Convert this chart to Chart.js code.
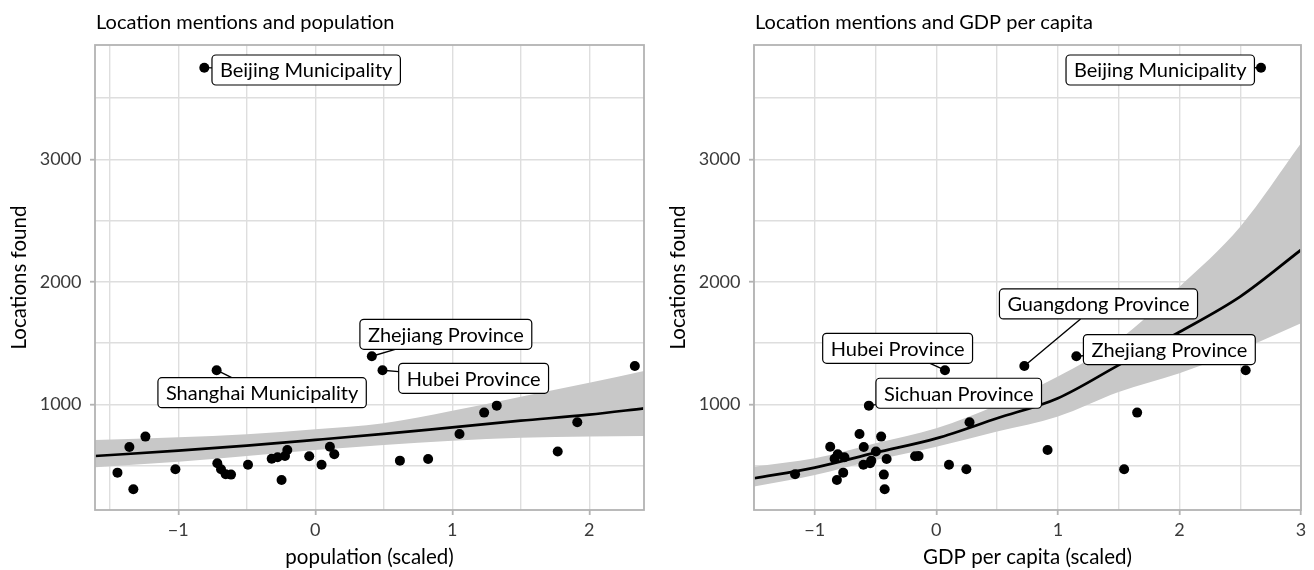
<!DOCTYPE html>
<html>
<head>
<meta charset="utf-8">
<script src="https://cdn.jsdelivr.net/npm/chart.js@4.4.1/dist/chart.umd.min.js"></script>
<style>
  html, body { margin: 0; padding: 0; background: #fff; }
  #wrap { display: flex; width: 1314px; height: 570px; }
  .panel { width: 657px; height: 570px; }
</style>
</head>
<body>
<div id="wrap">
  <div class="panel"><canvas id="popChart" width="657" height="570"></canvas></div>
  <div class="panel"><canvas id="gdpChart" width="657" height="570"></canvas></div>
</div>
<script>
// DATA (one row per province, same order in every array)
const provinceNames = ['Beijing Municipality', 'Zhejiang Province', 'Guangdong Province',
                       'Shanghai Municipality', 'Hubei Province', 'Sichuan Province'];
const locationsFound = [3748, 1392, 1313, 1278, 1278, 989, 932, 853, 758, 736, 654, 652, 627, 614, 592, 578,
                        576, 567, 556, 554, 540, 518, 507, 507, 469, 469, 442, 429, 426, 382, 306];
const popScaled = [-0.81, 0.413, 2.333, -0.72, 0.491, 1.325, 1.233, 1.913, 1.053, -1.24, 0.107, -1.357, -0.204,
                   1.77, 0.139, -0.221, -0.044, -0.275, -0.318, 0.824, 0.618, -0.715, 0.046, -0.491, -0.688,
                   -1.021, -1.444, -0.654, -0.615, -0.246, -1.328];
const gdpScaled = [2.671, 1.152, 0.724, 2.545, 0.071, -0.555, 1.652, 0.273, -0.632, -0.454, -0.873, -0.597, 0.915,
                   -0.497, -0.811, -0.146, -0.175, -0.756, -0.837, -0.409, -0.535, -0.545, 0.104, -0.6, 0.247,
                   1.545, -0.766, -1.162, -0.432, -0.818, -0.425];

// fitted curves and confidence bands
const popFitX  = [-1.608, -1, -0.5, 0, 0.5, 1, 1.5, 2, 2.4];
const popFit   = [578, 621, 662, 709, 758, 812, 866, 915, 967];
const popLower = [486, 531, 578, 627, 668, 702, 727, 736, 741];
const popUpper = [709, 731, 755, 796, 845, 947, 1062, 1176, 1272];

const gdpFitX  = [-1.5, -1, -0.5, 0, 0.5, 1, 1.5, 2, 2.5, 3];
const gdpFit   = [396, 483, 605, 722, 886, 1050, 1320, 1590, 1879, 2260];
const gdpLower = [328, 423, 545, 654, 777, 900, 1100, 1253, 1443, 1661];
const gdpUpper = [491, 559, 682, 804, 995, 1226, 1525, 1960, 2450, 3131];

// tick labels
const yTickLabels = [1000, 2000, 3000];
const popTickLabels = [-1, 0, 1, 2];
const gdpTickLabels = [-1, 0, 1, 2, 3];

// STYLE
const FONT = 'Lato';
const gridColor = '#dedede';
const frameColor = '#b3b3b3';
const textColor = '#3a3a3a';

function tickText(v) {
    return v < 0 ? '\u2212' + Math.abs(v) : String(v);
}

// grid every half step of the labelled ticks
function halfSteps(step) {
    return scale => {
        const out = [];
        for (let v = Math.ceil(scale.min / step) * step; v <= scale.max + 1e-9; v += step) {
            out.push({ value: Math.round(v * 1000) / 1000 });
        }
        scale.ticks = out;
    };
}

// panel title + border
const framePlugin = {
    id: 'frame',
    afterDraw(chart) {
        const { ctx, chartArea: a } = chart;
        ctx.save();
        ctx.strokeStyle = frameColor;
        ctx.lineWidth = 1.8;
        ctx.strokeRect(a.left, a.top, a.right - a.left, a.bottom - a.top);
        ctx.fillStyle = '#000';
        ctx.font = '20px ' + FONT;
        ctx.textBaseline = 'alphabetic';
        ctx.textAlign = 'left';
        ctx.fillText(chart.$panelTitle, a.left + 1, 29);
        ctx.restore();
    }
};

// repel-style labels: box anchored in data units, segment from the point toward box centre
function makeLabelPlugin(items, xValues) {
    return {
        id: 'pointLabels',
        afterDatasetsDraw(chart) {
            const { ctx, scales: { x, y } } = chart;
            ctx.save();
            ctx.font = '20px ' + FONT;
            items.forEach(it => {
                const text = provinceNames[it.i];
                const w = ctx.measureText(text).width + 16, h = 30;
                const ax = x.getPixelForValue(it.bx), ay = y.getPixelForValue(it.by);
                const left = it.align === 'left' ? ax : it.align === 'right' ? ax - w : ax - w / 2;
                const top = ay - h / 2;
                const cx = left + w / 2, cy = top + h / 2;
                const px = x.getPixelForValue(xValues[it.i]), py = y.getPixelForValue(locationsFound[it.i]);
                const dx = px - cx, dy = py - cy;
                const s = Math.min(dx ? (w / 2) / Math.abs(dx) : Infinity, dy ? (h / 2) / Math.abs(dy) : Infinity);
                if (s < 1) {
                    ctx.strokeStyle = '#000';
                    ctx.lineWidth = 1.4;
                    ctx.beginPath();
                    ctx.moveTo(px, py);
                    ctx.lineTo(cx + dx * s, cy + dy * s);
                    ctx.stroke();
                }
                ctx.beginPath();
                ctx.roundRect(left, top, w, h, 4);
                ctx.fillStyle = '#fff';
                ctx.fill();
                ctx.strokeStyle = '#000';
                ctx.lineWidth = 1.2;
                ctx.stroke();
                ctx.fillStyle = '#000';
                ctx.textAlign = 'center';
                ctx.textBaseline = 'middle';
                ctx.fillText(text, cx, cy + 1);
            });
            ctx.restore();
        }
    };
}

function makeChart(canvasId, o) {
    const pts = o.xValues.map((v, i) => ({ x: v, y: locationsFound[i] }));
    const curve = arr => o.fitX.map((v, i) => ({ x: v, y: arr[i] }));
    const chart = new Chart(document.getElementById(canvasId), {
        type: 'line',
        data: {
            datasets: [
                { data: pts, showLine: false, pointRadius: 5, pointBackgroundColor: '#000', pointBorderWidth: 0, order: 0 },
                { data: curve(o.fit), borderColor: '#000', borderWidth: 2.7, pointRadius: 0, cubicInterpolationMode: 'monotone', order: 1 },
                { data: curve(o.upper), borderWidth: 0, borderColor: 'rgba(0,0,0,0)', pointRadius: 0, fill: 3,
                  backgroundColor: '#c8c8c8', cubicInterpolationMode: 'monotone', order: 2 },
                { data: curve(o.lower), borderWidth: 0, borderColor: 'rgba(0,0,0,0)', pointRadius: 0,
                  cubicInterpolationMode: 'monotone', order: 3 }
            ]
        },
        options: {
            responsive: false,
            animation: false,
            events: [],
            layout: { padding: { top: 45, right: 13, left: o.padLeft, bottom: 0 } },
            plugins: { legend: { display: false }, tooltip: { enabled: false } },
            scales: {
                x: {
                    type: 'linear', min: o.xMin, max: o.xMax,
                    afterBuildTicks: halfSteps(0.5),
                    afterFit: s => { s.height = 60; },
                    ticks: {
                        autoSkip: false, maxRotation: 0, padding: 4,
                        color: textColor, font: { family: FONT, size: 18 },
                        callback: v => o.xLabels.includes(v) ? tickText(v) : ''
                    },
                    grid: {
                        color: gridColor, lineWidth: 1.4, tickLength: 5, tickWidth: 1.8,
                        tickColor: c => o.xLabels.includes(c.tick.value) ? frameColor : 'rgba(0,0,0,0)'
                    },
                    border: { display: false },
                    title: { display: true, text: o.xTitle, color: '#000', font: { family: FONT, size: 20.5 }, padding: { top: 0, bottom: 0 } }
                },
                y: {
                    type: 'linear', min: 137, max: 3933,
                    afterBuildTicks: halfSteps(500),
                    afterFit: s => { s.width = 95; },
                    ticks: {
                        autoSkip: false, padding: 8.5,
                        color: textColor, font: { family: FONT, size: 18 },
                        callback: v => yTickLabels.includes(v) ? String(v) : ''
                    },
                    grid: {
                        color: gridColor, lineWidth: 1.4, tickLength: 5, tickWidth: 1.8,
                        tickColor: c => yTickLabels.includes(c.tick.value) ? frameColor : 'rgba(0,0,0,0)'
                    },
                    border: { display: false },
                    title: { display: true, text: 'Locations found', color: '#000', font: { family: FONT, size: 20.5 }, padding: { top: 7, bottom: 0 } }
                }
            }
        },
        plugins: [makeLabelPlugin(o.labels, o.xValues), framePlugin]
    });
    chart.$panelTitle = o.title;
    chart.draw();
    return chart;
}

makeChart('popChart', {
    title: 'Location mentions and population',
    xTitle: 'population (scaled)',
    xValues: popScaled, xMin: -1.608, xMax: 2.4, xLabels: popTickLabels, padLeft: 0,
    fitX: popFitX, fit: popFit, lower: popLower, upper: popUpper,
    labels: [
        { i: 0, bx: -0.754, by: 3729, align: 'left' },
        { i: 1, bx: 0.326, by: 1571, align: 'left' },
        { i: 4, bx: 0.609, by: 1212, align: 'left' },
        { i: 3, bx: -0.388, by: 1095, align: 'center' }
    ]
});

makeChart('gdpChart', {
    title: 'Location mentions and GDP per capita',
    xTitle: 'GDP per capita (scaled)',
    xValues: gdpScaled, xMin: -1.5, xMax: 3, xLabels: gdpTickLabels, padLeft: 2,
    fitX: gdpFitX, fit: gdpFit, lower: gdpLower, upper: gdpUpper,
    labels: [
        { i: 0, bx: 2.617, by: 3729, align: 'right' },
        { i: 2, bx: 1.334, by: 1819, align: 'center' },
        { i: 4, bx: 0.298, by: 1457, align: 'right' },
        { i: 5, bx: -0.497, by: 1090, align: 'left' },
        { i: 1, bx: 1.21, by: 1447, align: 'left' }
    ]
});
</script>
</body>
</html>
